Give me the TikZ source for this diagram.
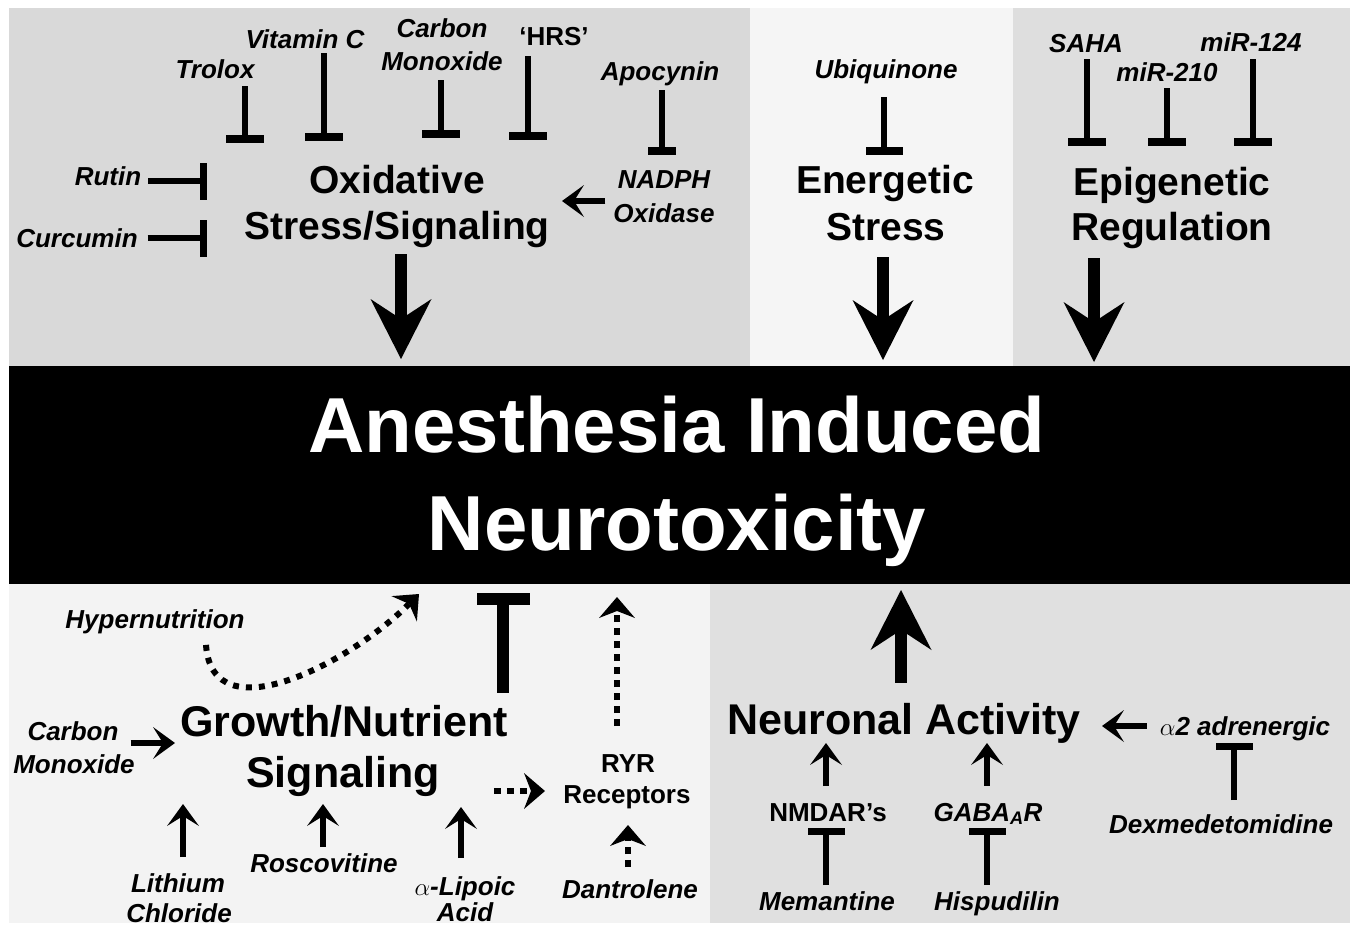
\documentclass[tikz,border=0pt]{standalone}
\usepackage{fontspec}
\setmainfont{Liberation Sans}
\setsansfont{Liberation Sans}
\usetikzlibrary{arrows.meta,calc}
\definecolor{pA}{RGB}{217,217,217}
\definecolor{pB}{RGB}{245,245,245}
\definecolor{pC}{RGB}{222,222,222}
\definecolor{pD}{RGB}{243,243,243}
\definecolor{pE}{RGB}{224,224,224}
\begin{document}
\begin{tikzpicture}[x=1pt,y=-1pt,
  lab/.style={font=\fontsize{26}{30}\selectfont\bfseries\itshape, inner sep=0pt, outer sep=0pt, anchor=base},
  labup/.style={font=\fontsize{26}{30}\selectfont\bfseries, inner sep=0pt, outer sep=0pt, anchor=base},
  headA/.style={font=\fontsize{39}{46}\selectfont\bfseries, inner sep=0pt, outer sep=0pt, anchor=base},
  headB/.style={font=\fontsize{43}{50}\selectfont\bfseries, inner sep=0pt, outer sep=0pt, anchor=base},
  ttl/.style={font=\fontsize{78}{90}\selectfont\bfseries, text=white, inner sep=0pt, outer sep=0pt, anchor=base},
  bigarr/.style={line width=12pt, -{Stealth[length=60pt,width=61pt,inset=20pt,line width'=0pt]}},
  arr/.style={line width=6pt, -{Stealth[length=22pt,width=32pt,inset=10pt,line width'=0pt]}},
  dotarr/.style={line width=6pt, dash pattern=on 7pt off 6pt, -{Stealth[length=21pt,width=36pt,inset=7pt,line width'=0pt]}},
  inh/.style={line width=6pt, -{Rectangle[length=8pt,width=#1,line width'=0pt]}},
  inh/.default=38pt,
  inhs/.style={line width=6pt, -{Rectangle[length=7pt,width=#1,line width'=0pt]}},
  inhs/.default=37pt,
  binh/.style={line width=12pt, -{Rectangle[length=12pt,width=53pt,line width'=0pt]}},
]
\useasboundingbox (0,0) rectangle (1355,927);
\fill[white] (0,0) rectangle (1355,927);
% panels
\fill[pA] (9,8) rectangle (750,366);
\fill[pB] (750,8) rectangle (1013,366);
\fill[pC] (1013,8) rectangle (1350,366);
\fill[pD] (9,584) rectangle (710,923);
\fill[pE] (710,584) rectangle (1350,923);
\fill[black] (9,366) rectangle (1350,584);

% ---------- top left ----------
\node[lab] (trolox) at (215,78) {Trolox};
\node[lab] (vitc) at (305,48) {Vitamin C};
\node[lab] (carb1) at (442,37) {Carbon};
\node[lab] (carb2) at (442,70) {Monoxide};
\node[labup] (hrs) at (554,45) {‘HRS’};
\node[lab] (apoc) at (660,80) {Apocynin};
\node[lab] (rutin) at (108,185) {Rutin};
\node[lab] (curc) at (77,247) {Curcumin};
\node[lab] (nad1) at (664,188) {NADPH};
\node[lab] (nad2) at (664,222) {Oxidase};
\node[headA] (ox1) at (397,193) {Oxidative};
\node[headA] (ox2) at (397,239) {Stress/Signaling};

\coordinate (troloxB) at (245,143);
\coordinate (vitcB) at (324,141);
\coordinate (carbB) at (441,138);
\coordinate (hrsB) at (528,140);
\coordinate (apocB) at (662,155);
\coordinate (rutinB) at (207,181);
\coordinate (curcB) at (207,238);
\coordinate (nadT) at (562,201);
\coordinate (oxT) at (401,359);

\draw[inh] ($(trolox.south -| troloxB)+(0,8)$) -- (troloxB);
\draw[inh] ($(vitc.south -| vitcB)+(0,5)$) -- (vitcB);
\draw[inh] ($(carb2.south -| carbB)+(0,10)$) -- (carbB);
\draw[inh] ($(hrs.south -| hrsB)+(0,11)$) -- (hrsB);
\draw[inh=28pt] ($(apoc.south -| apocB)+(0,5)$) -- (apocB);
\draw[inhs] ($(rutin.east |- rutinB)+(7,0)$) -- (rutinB);
\draw[inhs] ($(curc.east |- curcB)+(10,0)$) -- (curcB);
\draw[arr] ($(nad2.west |- nadT)+(-8,0)$) -- (nadT);
\draw[bigarr] ($(ox2.south -| oxT)+(0,7)$) -- (oxT);

% ---------- top middle ----------
\node[lab] (ubi) at (886,78) {Ubiquinone};
\node[headA] (en1) at (885,193) {Energetic};
\node[headA] (en2) at (886,240) {Stress};
\coordinate (ubiB) at (884,155);
\coordinate (enT) at (883,360);
\draw[inh=37pt] ($(ubi.south -| ubiB)+(0,14)$) -- (ubiB);
\draw[bigarr] ($(en2.south -| enT)+(0,17)$) -- (enT);

% ---------- top right ----------
\node[lab] (saha) at (1086,52) {SAHA};
\node[lab] (mir210) at (1167,81) {miR-210};
\node[lab] (mir124) at (1251,51) {miR-124};
\node[headA] (ep1) at (1172,195) {Epigenetic};
\node[headA] (ep2) at (1172,240) {Regulation};
\coordinate (sahaB) at (1087,146);
\coordinate (mirAB) at (1167,146);
\coordinate (mirBB) at (1253,146);
\coordinate (epT) at (1094,362);
\draw[inh] ($(saha.south -| sahaB)+(0,7)$) -- (sahaB);
\draw[inh] ($(mir210.south -| mirAB)+(0,7)$) -- (mirAB);
\draw[inh] ($(mir124.south -| mirBB)+(0,8)$) -- (mirBB);
\draw[bigarr] ($(ep2.south -| epT)+(0,10)$) -- (epT);

% ---------- title ----------
\node[ttl] (t1) at (677,452) {Anesthesia Induced};
\node[ttl] (t2) at (677,550) {Neurotoxicity};

% ---------- bottom left ----------
\node[lab] (hyper) at (155,628) {Hypernutrition};
\node[headB] (gr1) at (344,736) {Growth/Nutrient};
\node[headB] (gr2) at (343,787) {Signaling};
\node[lab] (co1) at (73,740) {Carbon};
\node[lab] (co2) at (74,773) {Monoxide};
\node[lab] (lith1) at (178,892) {Lithium};
\node[lab] (lith2) at (179,922) {Chloride};
\node[lab] (rosc) at (324,872) {Roscovitine};
\node[lab] (lip1) at (465,895) {$\alpha$-Lipoic};
\node[lab] (lip2) at (465,921) {Acid};
\node[labup] (ryr1) at (628,772) {RYR};
\node[labup] (ryr2) at (627,803) {Receptors};
\node[lab] (dant) at (630,898) {Dantrolene};

\coordinate (hypT) at (419,594);
\coordinate (grT) at (503,593);
\coordinate (ryrT) at (617,597);
\coordinate (coT) at (175,743);
\coordinate (lithT) at (183,804);
\coordinate (roscT) at (323,804);
\coordinate (lipT) at (461,807);
\coordinate (ryrA) at (545,791);
\coordinate (dantT) at (628,825);

\draw[dotarr, dash pattern=on 6pt off 7pt] ($(hyper.south)+(51,11.5)$) .. controls (212,735) and (350,663) .. (hypT);
\draw[binh] ($(gr1.north -| grT)+(0,-12)$) -- (grT);
\draw[dotarr] ($(ryr1.north -| ryrT)+(0,-28)$) -- (ryrT);
\draw[arr] ($(co1.east |- coT)+(12,0)$) -- (coT);
\draw[arr] ($(lith1.north -| lithT)+(0,-16)$) -- (lithT);
\draw[arr] ($(rosc.north -| roscT)+(0,-6)$) -- (roscT);
\draw[arr] ($(lip1.north -| lipT)+(0,-18)$) -- (lipT);
\draw[dotarr] ($(gr2.east |- ryrA)+(54,0)$) -- (ryrA);
\draw[dotarr] ($(dant.north -| dantT)+(0,-12)$) -- (dantT);

% ---------- bottom right ----------
\node[headB] (neur) at (904,734) {Neuronal Activity};
\node[lab] (alpha2) at (1245,735) {$\alpha$2 adrenergic};
\node[lab] (dex) at (1221,833) {Dexmedetomidine};
\node[labup] (nmdar) at (828,821) {NMDAR’s};
\node[lab] (gaba) at (988,821) {GABA\textsubscript{A}R};
\node[lab] (mem) at (827,910) {Memantine};
\node[lab] (hisp) at (997,910) {Hispudilin};

\coordinate (neurT) at (901,590);
\coordinate (alphaT) at (1102,726);
\coordinate (dexB) at (1234,743);
\coordinate (nmdT) at (826,743);
\coordinate (gabT) at (987,743);
\coordinate (memB) at (826,828);
\coordinate (hispB) at (987,828);

\draw[bigarr] ($(neur.north -| neurT)+(0,-20)$) -- (neurT);
\draw[arr] ($(alpha2.west |- alphaT)+(-13,0)$) -- (alphaT);
\draw[inhs] ($(dex.north -| dexB)+(0,-14)$) -- (dexB);
\draw[arr] ($(nmdar.north -| nmdT)+(0,-17)$) -- (nmdT);
\draw[arr] ($(gaba.north -| gabT)+(0,-17)$) -- (gabT);
\draw[inhs] ($(mem.north -| memB)+(0,-6)$) -- (memB);
\draw[inhs] ($(hisp.north -| hispB)+(0,-6)$) -- (hispB);
\end{tikzpicture}
\end{document}
